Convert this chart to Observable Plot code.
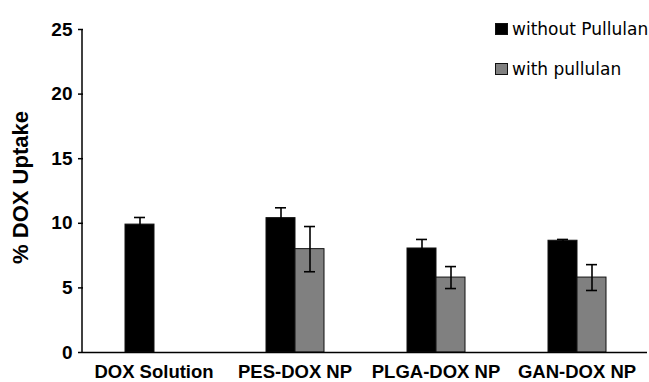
<!DOCTYPE html>
<html><head><meta charset="utf-8">
<script src="https://cdn.jsdelivr.net/npm/d3@7"></script>
<script src="https://cdn.jsdelivr.net/npm/@observablehq/plot@0.6"></script>
<style>
body{margin:0;background:#fff;}
#wrap{position:relative;width:649px;height:382px;}
.leg{position:absolute;left:495px;font-family:"DejaVu Sans",sans-serif;font-size:17px;color:#000;display:flex;align-items:center;white-space:nowrap;line-height:20px;}
.sw{width:13px;height:12px;border:1px solid #111;margin-right:4px;box-sizing:border-box;}
</style></head><body><div id="wrap"></div>
<script>
const categories = ["DOX Solution", "PES-DOX NP", "PLGA-DOX NP", "GAN-DOX NP"];
const seriesNames = ["without Pullulan", "with pullulan"];
const withoutValues = [9.9, 10.4, 8.05, 8.65];
const withoutErrors = [0.55, 0.8, 0.7, 0.1];
const withValues = [null, 8.0, 5.8, 5.8];
const withErrors = [null, 1.75, 0.85, 1.0];
const yTicks = [0, 5, 10, 15, 20, 25];
const colors = ["#000000", "#808080"];
const yLabel = "% DOX Uptake";

const rows = [];
categories.forEach((c, i) => {
  [[withoutValues, withoutErrors, 0], [withValues, withErrors, 1]].forEach(([vals, errs, s]) => {
    if (vals[i] != null) rows.push({cat: c, series: seriesNames[s], value: vals[i], lo: vals[i] - errs[i], hi: vals[i] + errs[i]});
  });
});

const plot = Plot.plot({
  width: 649, height: 382,
  marginLeft: 82, marginRight: 1, marginTop: 29, marginBottom: 30,
  style: {fontFamily: "'Liberation Sans', Arial, sans-serif", color: "#000", background: "#fff", overflow: "visible"},
  fx: {domain: categories, padding: 0, label: null},
  x: {domain: seriesNames, paddingInner: 0, paddingOuter: 1.43, axis: null},
  y: {domain: [0, 25]},
  color: {domain: seriesNames, range: colors},
  marks: [
    Plot.axisY({ticks: yTicks, tickSize: 5, tickPadding: 6, fontSize: 19, fontWeight: "bold", label: null, stroke: "#000", strokeWidth: 1.5, strokeOpacity: 1}),
    Plot.axisFx({anchor: "bottom", tickSize: 0, tickPadding: 12, fontSize: 18.5, fontWeight: "bold", label: null}),
    Plot.barY(rows, {fx: "cat", x: "series", y: "value", fill: "series", stroke: "#111", strokeWidth: 1}),
    Plot.ruleX(rows, {fx: "cat", x: "series", y1: "lo", y2: "hi", stroke: "#000", strokeWidth: 1.6}),
    Plot.tickY(rows, {fx: "cat", x: "series", y: "hi", insetLeft: 9, insetRight: 9, stroke: "#000", strokeWidth: 1.6}),
    Plot.tickY(rows, {fx: "cat", x: "series", y: "lo", insetLeft: 9, insetRight: 9, stroke: "#000", strokeWidth: 1.6}),
    Plot.ruleY([0], {stroke: "#000", strokeWidth: 1.5})
  ]
});

const y = plot.scale("y");
const svg = d3.select(plot);
svg.append("line")
  .attr("x1", 82).attr("x2", 82)
  .attr("y1", y.apply(0)).attr("y2", y.apply(25))
  .attr("stroke", "#000").attr("stroke-width", 1.5);
svg.append("text")
  .attr("transform", `translate(28,${(y.apply(0) + y.apply(25)) / 2 - 3}) rotate(-90)`)
  .attr("text-anchor", "middle")
  .attr("font-family", "'Liberation Sans', Arial, sans-serif")
  .attr("font-weight", "bold").attr("font-size", 22)
  .text(yLabel);

const wrap = document.getElementById("wrap");
wrap.appendChild(plot);
seriesNames.forEach((s, i) => {
  const d = document.createElement("div");
  d.className = "leg";
  d.style.top = (i === 0 ? 19 : 59) + "px";
  const sw = document.createElement("span");
  sw.className = "sw";
  sw.style.background = colors[i];
  d.appendChild(sw);
  d.appendChild(document.createTextNode(s));
  wrap.appendChild(d);
});
</script></body></html>
